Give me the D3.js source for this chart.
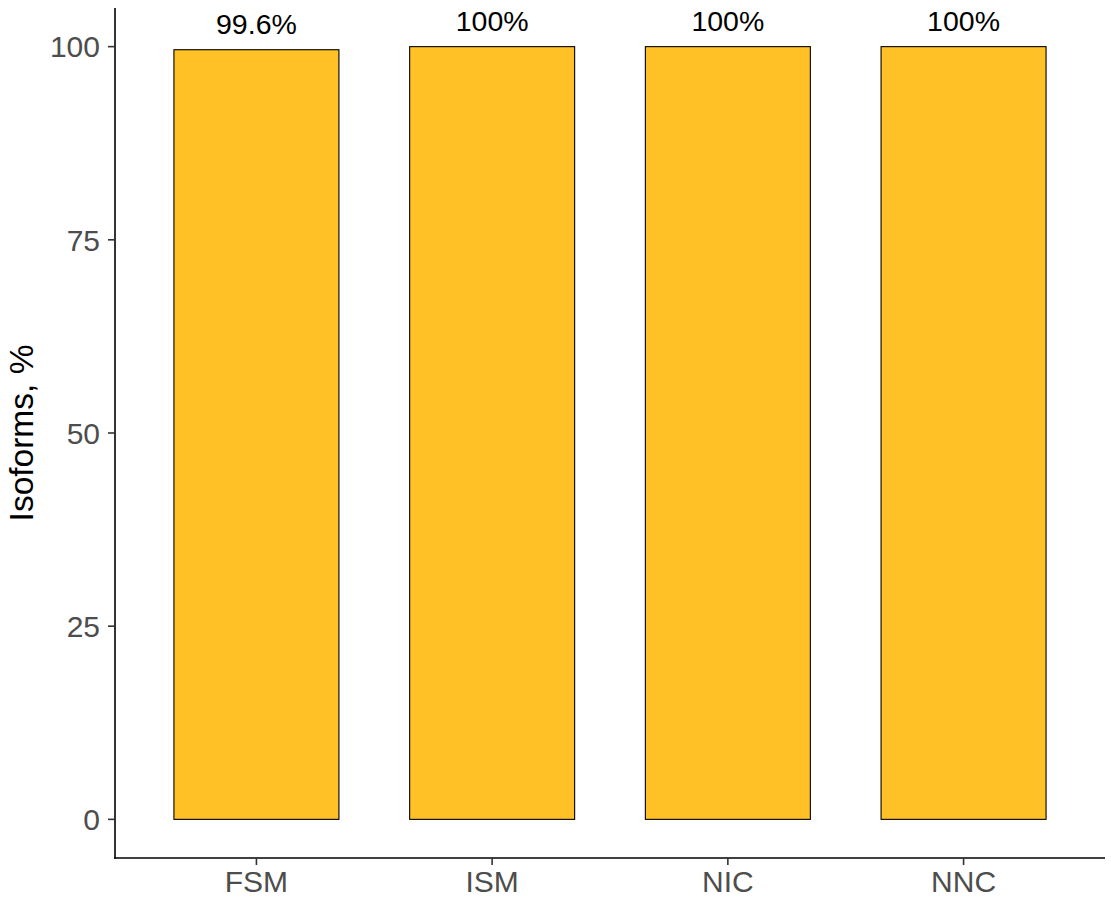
<!DOCTYPE html>
<html><head><meta charset="utf-8">
<script src="https://cdn.jsdelivr.net/npm/d3@7"></script>
<style>body{margin:0;background:#fff;} text{font-family:"Liberation Sans",Arial,sans-serif;}</style>
</head><body>
<svg id="chart" width="1111" height="899"></svg>
<script>
const categories = ["FSM", "ISM", "NIC", "NNC"];
const values = [99.6, 100, 100, 100];
const barLabels = ["99.6%", "100%", "100%", "100%"];
const yTicks = [0, 25, 50, 75, 100];

const svg = d3.select("#chart");
const pL = 115, pR = 1105, pT = 8, pB = 858;

const x = d3.scaleBand().domain(categories).range([pL, pR]).paddingInner(0.3).paddingOuter(0.25);
const xc = c => x(c) + x.bandwidth() / 2;
const y = d3.scaleLinear().domain([-5, 105]).range([pB, pT]);

// bars
svg.append("g").selectAll("rect").data(categories).join("rect")
  .attr("x", c => x(c))
  .attr("y", (c, i) => y(values[i]))
  .attr("width", x.bandwidth())
  .attr("height", (c, i) => y(0) - y(values[i]))
  .attr("fill", "#FFC125").attr("stroke", "#000").attr("stroke-width", 1.1);

// bar labels
svg.append("g").selectAll("text").data(categories).join("text")
  .attr("x", c => xc(c))
  .attr("y", (c, i) => y(values[i]) - 16)
  .attr("text-anchor", "middle").attr("font-size", 28.5).attr("fill", "#000")
  .text((c, i) => barLabels[i]);

// y axis
const ya = svg.append("g");
ya.append("line").attr("x1", pL).attr("x2", pL).attr("y1", pT).attr("y2", pB + 0.8)
  .attr("stroke", "#000").attr("stroke-width", 1.6);
ya.selectAll(".t").data(yTicks).join("line")
  .attr("x1", pL - 7).attr("x2", pL).attr("y1", d => y(d)).attr("y2", d => y(d))
  .attr("stroke", "#333").attr("stroke-width", 1.6);
ya.selectAll("text").data(yTicks).join("text")
  .attr("x", pL - 15).attr("y", d => y(d)).attr("dy", "0.36em")
  .attr("text-anchor", "end").attr("font-size", 30).attr("fill", "#4D4D4D").text(d => d);

// x axis
const xa = svg.append("g");
xa.append("line").attr("x1", pL - 0.8).attr("x2", pR).attr("y1", pB).attr("y2", pB)
  .attr("stroke", "#000").attr("stroke-width", 1.6);
xa.selectAll(".t").data(categories).join("line")
  .attr("x1", c => xc(c)).attr("x2", c => xc(c)).attr("y1", pB).attr("y2", pB + 7)
  .attr("stroke", "#333").attr("stroke-width", 1.6);
xa.selectAll("text").data(categories).join("text")
  .attr("x", c => xc(c)).attr("y", pB + 34)
  .attr("text-anchor", "middle").attr("font-size", 30).attr("fill", "#4D4D4D").text(c => c);

// y title
svg.append("text").attr("transform", `translate(33,${(pT + pB) / 2}) rotate(-90)`)
  .attr("text-anchor", "middle").attr("font-size", 33.5).attr("fill", "#000").text("Isoforms, %");
</script>
</body></html>
